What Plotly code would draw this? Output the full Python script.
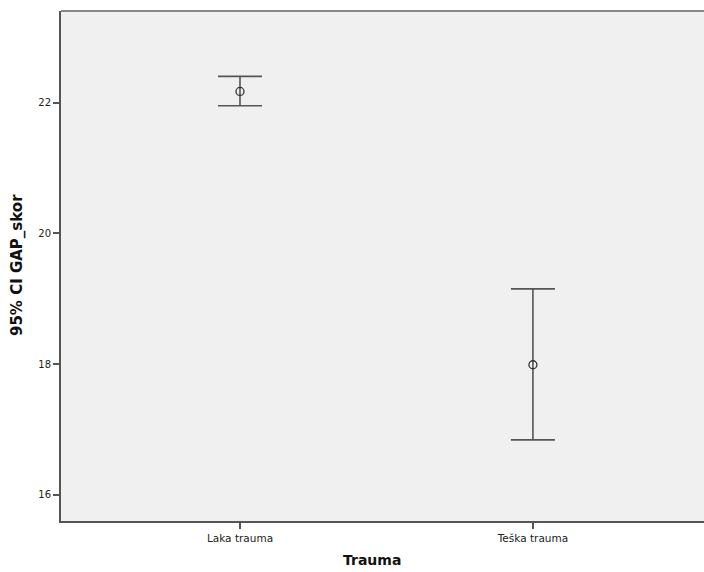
import plotly.graph_objects as go

categories = ["Laka trauma", "Teška trauma"]
means = [22.17, 17.99]
ci_lower = [21.95, 16.84]
ci_upper = [22.40, 19.15]
y_ticks = [16, 18, 20, 22]

err_plus = [u - m for u, m in zip(ci_upper, means)]
err_minus = [m - l for m, l in zip(means, ci_lower)]

fig = go.Figure()
fig.add_trace(go.Scatter(
    x=[0, 1], y=means, mode="markers",
    marker=dict(symbol="circle-open", size=8, color="#333333", line=dict(width=1.3)),
    error_y=dict(type="data", symmetric=False, array=err_plus, arrayminus=err_minus,
                 color="#555555", thickness=1.6, width=22),
    showlegend=False,
))

fig.add_shape(type="line", xref="paper", yref="paper", x0=0, x1=1, y0=1, y1=1,
              line=dict(color="#888888", width=2))

# plot area: x 61..704, y 11..521 (510 px tall, 643 px wide)
fig.add_annotation(text="<b>Trauma</b>", xref="paper", yref="paper", x=(372 - 61) / 643, y=(521 - 560) / 510,
                   yanchor="middle", xanchor="center", showarrow=False,
                   font=dict(size=14, color="#111111"))
fig.add_annotation(text="<b>95% CI GAP_skor</b>", xref="paper", yref="paper", x=(17 - 61) / 643,
                   y=(521 - 265) / 510,
                   xanchor="center", yanchor="middle", textangle=-90, showarrow=False,
                   font=dict(size=15, color="#111111"))

fig.update_layout(
    width=704, height=572,
    margin=dict(l=61, r=0, t=11, b=51),
    paper_bgcolor="white", plot_bgcolor="#f0f0f0",
    font=dict(family="DejaVu Sans", size=10.5, color="#222222"),
    xaxis=dict(range=[-0.611, 1.584], tickvals=[0, 1], ticktext=categories, automargin=False,
               showgrid=False, zeroline=False, showline=True, linecolor="#555555", linewidth=2,
               ticks="outside", ticklen=6, tickcolor="#555555", tickwidth=1.5),
    yaxis=dict(range=[15.6, 23.4], tickvals=y_ticks, automargin=False,
               showgrid=False, zeroline=False, showline=True, linecolor="#555555", linewidth=2,
               ticks="outside", ticklen=6, tickcolor="#555555", tickwidth=1.5,
               tickfont=dict(size=10)),
)

fig.write_html("out.html", config={"displayModeBar": False},
               post_script="document.body.style.margin='0';document.body.style.overflow='hidden';")
